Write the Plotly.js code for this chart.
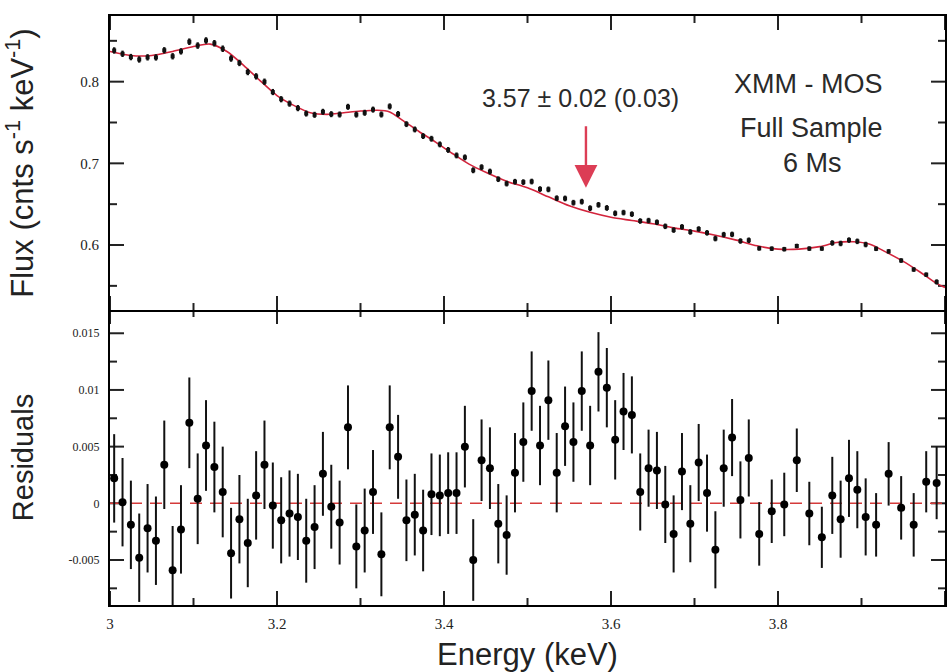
<!DOCTYPE html>
<html>
<head>
<meta charset="utf-8">
<script src="https://cdn.plot.ly/plotly-3.0.1.min.js"></script>
<style>html,body{margin:0;padding:0;background:#fff;}#chart{width:947px;height:672px;}</style>
</head>
<body>
<div id="chart"></div>
<script>
// ---- Data ----
const energy = [3.005,3.015,3.025,3.035,3.045,3.055,3.065,3.075,3.085,3.095,
  3.105,3.115,3.125,3.135,3.145,3.155,3.165,3.175,3.185,3.195,
  3.205,3.215,3.225,3.235,3.245,3.255,3.265,3.275,3.285,3.295,
  3.305,3.315,3.325,3.335,3.345,3.355,3.365,3.375,3.385,3.395,
  3.405,3.415,3.425,3.435,3.445,3.455,3.465,3.475,3.485,3.495,
  3.505,3.515,3.525,3.535,3.545,3.555,3.565,3.575,3.585,3.595,
  3.605,3.615,3.625,3.635,3.645,3.655,3.665,3.675,3.685,3.695,
  3.705,3.715,3.725,3.735,3.745,3.755,3.765,3.7775,3.7925,3.8075,
  3.8225,3.8375,3.8525,3.865,3.875,3.885,3.895,3.905,3.9175,3.9325,
  3.9475,3.9625,3.9775,3.99];

const flux = [0.8382,0.8341,0.8301,0.8272,0.8298,0.8297,0.8384,0.8311,0.8371,0.8489,
  0.8442,0.8504,0.8470,0.8403,0.8284,0.8229,0.8118,0.8065,0.7999,0.7873,
  0.7785,0.7731,0.7676,0.7610,0.7594,0.7631,0.7602,0.7598,0.7692,0.7597,
  0.7619,0.7658,0.7598,0.7697,0.7604,0.7480,0.7415,0.7334,0.7301,0.7232,
  0.7164,0.7097,0.7073,0.6915,0.6953,0.6899,0.6806,0.6752,0.6775,0.6770,
  0.6777,0.6685,0.6681,0.6573,0.6570,0.6518,0.6531,0.6451,0.6492,0.6454,
  0.6388,0.6397,0.6378,0.6294,0.6299,0.6279,0.6229,0.6183,0.6222,0.6160,
  0.6196,0.6149,0.6079,0.6127,0.6130,0.6049,0.6058,0.5959,0.5955,0.5949,
  0.5988,0.5956,0.5956,0.6025,0.6019,0.6060,0.6045,0.6006,0.5954,0.5922,
  0.5810,0.5700,0.5637,0.5548];

const residual = [0.0022,0.0001,-0.0019,-0.0048,-0.0022,-0.0033,0.0034,-0.0059,-0.0023,0.0071,
  0.0004,0.0051,0.0032,0.0010,-0.0044,-0.0014,-0.0035,0.0007,0.0034,-0.0002,
  -0.0015,-0.0009,-0.0012,-0.0033,-0.0021,0.0026,-0.0003,-0.0017,0.0067,-0.0038,
  -0.0024,0.0010,-0.0045,0.0067,0.0041,-0.0015,-0.0010,-0.0024,0.0008,0.0007,
  0.0009,0.0009,0.0050,-0.0050,0.0038,0.0031,-0.0018,-0.0028,0.0027,0.0054,
  0.0099,0.0051,0.0091,0.0027,0.0068,0.0054,0.0099,0.0051,0.0116,0.0102,
  0.0056,0.0081,0.0078,0.0010,0.0031,0.0029,-0.0001,-0.0027,0.0028,-0.0018,
  0.0036,0.0009,-0.0041,0.0031,0.0058,0.0003,0.0040,-0.0027,-0.0007,-0.0001,
  0.0038,-0.0009,-0.0030,0.0007,-0.0014,0.0022,0.0012,-0.0012,-0.0019,0.0026,
  -0.0004,-0.0019,0.0019,0.0018];

const errors = [0.0039,0.0039,0.0039,0.0039,0.0039,0.0039,0.0039,0.0039,0.0039,0.0040,
  0.0040,0.0040,0.0040,0.0040,0.0040,0.0039,0.0039,0.0039,0.0039,0.0038,
  0.0038,0.0038,0.0038,0.0037,0.0037,0.0037,0.0037,0.0037,0.0037,0.0037,
  0.0037,0.0037,0.0037,0.0037,0.0037,0.0036,0.0036,0.0036,0.0036,0.0036,
  0.0036,0.0036,0.0036,0.0036,0.0036,0.0036,0.0035,0.0035,0.0035,0.0035,
  0.0035,0.0035,0.0035,0.0035,0.0035,0.0035,0.0035,0.0035,0.0035,0.0035,
  0.0035,0.0034,0.0034,0.0034,0.0034,0.0034,0.0034,0.0034,0.0034,0.0034,
  0.0034,0.0034,0.0034,0.0034,0.0034,0.0034,0.0034,0.0028,0.0028,0.0028,
  0.0028,0.0028,0.0027,0.0034,0.0034,0.0034,0.0034,0.0034,0.0028,0.0028,
  0.0028,0.0028,0.0027,0.0032];

const modelEnergy = [3.000,3.025,3.050,3.075,3.100,3.120,3.140,3.160,3.180,3.200,
  3.220,3.240,3.260,3.280,3.300,3.320,3.335,3.350,3.370,3.390,
  3.410,3.430,3.450,3.475,3.500,3.525,3.550,3.575,3.600,3.625,
  3.650,3.675,3.700,3.725,3.750,3.775,3.800,3.825,3.850,3.870,
  3.890,3.910,3.930,3.950,3.970,3.990,4.000];
const modelFlux = [0.837,0.832,0.832,0.837,0.843,0.846,0.837,0.820,0.801,0.783,
  0.771,0.762,0.760,0.762,0.764,0.765,0.763,0.753,0.739,0.726,
  0.712,0.699,0.689,0.678,0.670,0.659,0.648,0.640,0.634,0.630,
  0.626,0.621,0.617,0.612,0.606,0.599,0.595,0.595,0.598,0.603,
  0.604,0.601,0.591,0.580,0.567,0.553,0.548];

const xTickVals = [3, 3.2, 3.4, 3.6, 3.8, 4];
const xTickText = ['3', '3.2', '3.4', '3.6', '3.8', '4'];
const xMinorVals = [3.1, 3.3, 3.5, 3.7, 3.9];
const fluxTickVals = [0.6, 0.7, 0.8];
const fluxTickText = ['0.6', '0.7', '0.8'];
const fluxMinorVals = [0.55, 0.65, 0.75, 0.85];
const resTickVals = [-0.005, 0, 0.005, 0.01, 0.015];
const resTickText = ['-0.005', '0', '0.005', '0.01', '0.015'];
const resMinorVals = [-0.0075, -0.0025, 0.0025, 0.0075, 0.0125];

const lineLabel = '3.57 \u00b1 0.02 (0.03)';
const lineEnergy = 3.57;
const lineArrowFlux = 0.670;
const instrumentLines = ['XMM - MOS', 'Full Sample', '6 Ms'];

// ---- Traces ----
const traces = [
  {
    x: modelEnergy, y: modelFlux, xaxis: 'x', yaxis: 'y',
    type: 'scatter', mode: 'lines', hoverinfo: 'skip',
    line: {color: '#d3243c', width: 1.6, shape: 'spline', smoothing: 0.8}
  },
  {
    x: energy, y: flux, xaxis: 'x', yaxis: 'y',
    type: 'scatter', mode: 'markers',
    marker: {color: '#111', size: 4, symbol: 'square'},
    error_y: {type: 'data', array: errors, visible: true, color: '#111', thickness: 2.4, width: 0}
  },
  {
    x: energy, y: residual, xaxis: 'x2', yaxis: 'y2',
    type: 'scatter', mode: 'markers',
    marker: {color: '#000', size: 8},
    error_y: {type: 'data', array: errors, visible: true, color: '#111', thickness: 2, width: 0}
  }
];

// ---- Inside tick marks as axis-referenced shapes (lengths as fractions of each panel) ----
const plotW = 835, panelTopH = 294, panelBotH = 295;
const MAJOR = 14, MINOR = 7;
const tickLine = {color: '#222', width: 2};
const shapes = [];
function addXTicks(xref, yDomRef, vals, lenPx, panelH) {
  const f = lenPx / panelH;
  vals.forEach(function (v) {
    shapes.push({type: 'line', layer: 'below', xref: xref, yref: yDomRef, x0: v, x1: v, y0: 0, y1: f, line: tickLine});
    shapes.push({type: 'line', layer: 'below', xref: xref, yref: yDomRef, x0: v, x1: v, y0: 1 - f, y1: 1, line: tickLine});
  });
}
function addYTicks(xDomRef, yref, vals, lenPx) {
  const f = lenPx / plotW;
  vals.forEach(function (v) {
    shapes.push({type: 'line', layer: 'below', xref: xDomRef, yref: yref, x0: 0, x1: f, y0: v, y1: v, line: tickLine});
    shapes.push({type: 'line', layer: 'below', xref: xDomRef, yref: yref, x0: 1 - f, x1: 1, y0: v, y1: v, line: tickLine});
  });
}
addXTicks('x', 'y domain', xTickVals, MAJOR, panelTopH);
addXTicks('x', 'y domain', xMinorVals, MINOR, panelTopH);
addXTicks('x2', 'y2 domain', xTickVals, MAJOR, panelBotH);
addXTicks('x2', 'y2 domain', xMinorVals, MINOR, panelBotH);
addYTicks('x domain', 'y', fluxTickVals, MAJOR);
addYTicks('x domain', 'y', fluxMinorVals, MINOR);
addYTicks('x2 domain', 'y2', resTickVals, MAJOR);
addYTicks('x2 domain', 'y2', resMinorVals, MINOR);
shapes.push({
  type: 'line', xref: 'x2 domain', yref: 'y2', x0: 0, x1: 1, y0: 0, y1: 0,
  layer: 'below', line: {color: '#d43a3a', width: 1.6, dash: '12px,8px'}
});

const axisBase = {showgrid: false, zeroline: false, showline: true, linecolor: '#000', linewidth: 2, ticks: '', tickmode: 'array'};

const layout = {
  width: 947, height: 672,
  margin: {l: 110, r: 2, t: 16, b: 67},
  paper_bgcolor: '#fff', plot_bgcolor: '#fff',
  showlegend: false,
  xaxis: Object.assign({}, axisBase, {
    anchor: 'y', range: [3, 4], tickvals: xTickVals, ticktext: xTickText,
    showticklabels: false, mirror: true
  }),
  xaxis2: Object.assign({}, axisBase, {
    anchor: 'y2', range: [3, 4], tickvals: xTickVals, ticktext: xTickText,
    showticklabels: true, mirror: false,
    tickfont: {family: 'Liberation Serif', size: 15, color: '#222'},
    ticklabelstandoff: 4,
    title: {text: 'Energy (keV)', font: {family: 'Liberation Sans', size: 31, color: '#222'}, standoff: 14}
  }),
  yaxis: Object.assign({}, axisBase, {
    domain: [0.5008, 1], anchor: 'x', range: [0.5204, 0.8804], mirror: true,
    tickvals: fluxTickVals, ticktext: fluxTickText,
    tickfont: {family: 'Liberation Serif', size: 15, color: '#222'},
    ticklabelstandoff: 6,
    title: {text: 'Flux (cnts s<sup>-1</sup> keV<sup>-1</sup>)', font: {family: 'Liberation Sans', size: 31, color: '#222'}, standoff: 38}
  }),
  yaxis2: Object.assign({}, axisBase, {
    domain: [0, 0.5008], anchor: 'x2', range: [-0.00897, 0.01705], mirror: true,
    tickvals: resTickVals, ticktext: resTickText,
    tickfont: {family: 'Liberation Serif', size: 12, color: '#222'},
    ticklabelstandoff: 6,
    title: {text: 'Residuals', font: {family: 'Liberation Sans', size: 29, color: '#222'}, standoff: 26}
  }),
  shapes: shapes,
  annotations: [
    {
      xref: 'x', yref: 'y', x: lineEnergy, y: lineArrowFlux,
      ax: 0, ay: -63, axref: 'pixel', ayref: 'pixel',
      text: '', showarrow: true, arrowhead: 2, arrowsize: 1.9, arrowwidth: 2.4, arrowcolor: '#dc3d55'
    },
    {
      xref: 'paper', yref: 'paper', x: (580 - 110) / 835, y: 1 - (98 - 16) / 589,
      xanchor: 'center', yanchor: 'middle', showarrow: false, text: lineLabel,
      font: {family: 'Liberation Sans', size: 25, color: '#2a2a2a'}
    },
    {
      xref: 'paper', yref: 'paper', x: (808 - 110) / 835, y: 1 - (84 - 16) / 589,
      xanchor: 'center', yanchor: 'middle', showarrow: false, text: instrumentLines[0],
      font: {family: 'Liberation Sans', size: 27, color: '#2a2a2a'}
    },
    {
      xref: 'paper', yref: 'paper', x: (811 - 110) / 835, y: 1 - (128 - 16) / 589,
      xanchor: 'center', yanchor: 'middle', showarrow: false, text: instrumentLines[1],
      font: {family: 'Liberation Sans', size: 27, color: '#2a2a2a'}
    },
    {
      xref: 'paper', yref: 'paper', x: (812 - 110) / 835, y: 1 - (163 - 16) / 589,
      xanchor: 'center', yanchor: 'middle', showarrow: false, text: instrumentLines[2],
      font: {family: 'Liberation Sans', size: 27, color: '#2a2a2a'}
    }
  ]
};

Plotly.newPlot('chart', traces, layout, {staticPlot: true, displayModeBar: false});
</script>
</body>
</html>
